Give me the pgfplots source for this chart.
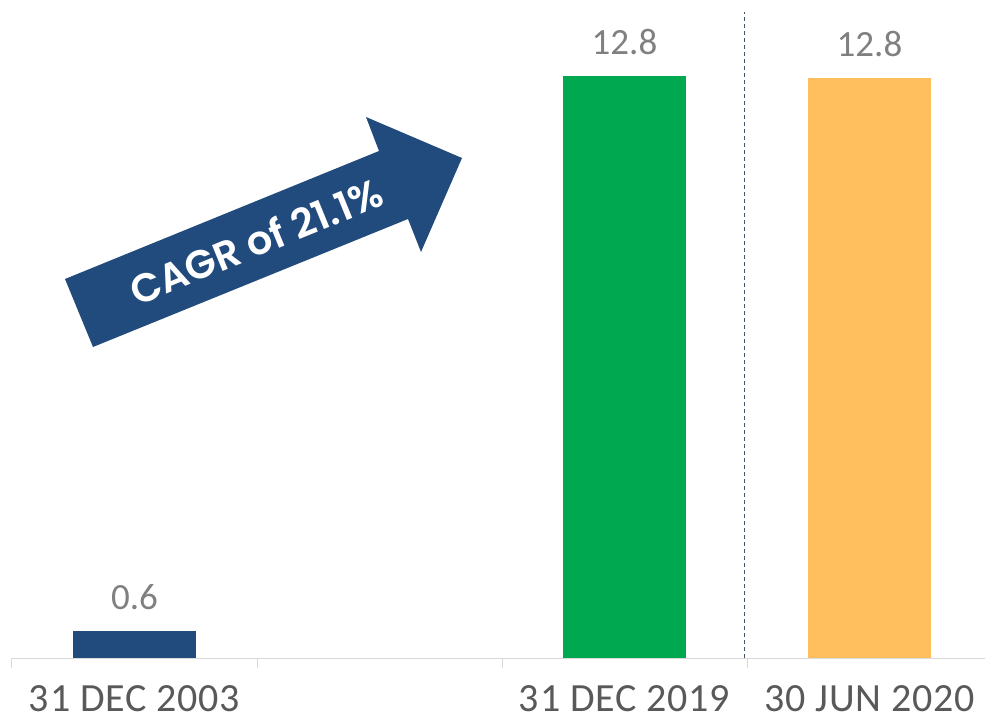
\documentclass[border=0pt]{standalone}
\usepackage{fontspec}
\setmainfont{Carlito}
\newfontfamily\tickfont[LetterSpace=2]{Carlito}
\newfontfamily\arrowfont{Poppins}[BoldFont={* SemiBold}]
\usepackage{pgfplots}
\pgfplotsset{compat=1.18}
\definecolor{cblue}{HTML}{214A7D}
\definecolor{cgreen}{HTML}{00A84F}
\definecolor{corange}{HTML}{FFBF5F}
\definecolor{cdash}{HTML}{44546A}
\begin{document}
\begin{tikzpicture}
\begin{axis}[
  scale only axis, width=980pt, height=658pt,
  xmin=-0.5, xmax=3.5, ymin=0, ymax=14.471,
  axis x line=bottom, axis y line=none,
  x axis line style={draw=black!15, line width=1pt, -},
  xtick={0,2,3},
  xticklabels={31 DEC 2003, 31 DEC 2019, 30 JUN 2020},
  major tick length=0pt,
  minor xtick={-0.5,0.5,1.5,2.5,3.5},
  minor tick length=10pt, tick align=outside,
  tick style={draw=black!15, line width=1pt},
  xticklabel style={font=\tickfont\fontsize{40}{40}\selectfont, text=black!65, inner sep=0pt, anchor=north, yshift=-27pt},
  ytick=\empty,
  ybar, bar width=123pt, bar shift=0pt,
  point meta=explicit symbolic,
  nodes near coords,
  nodes near coords style={font=\fontsize{37}{37}\selectfont, text=black!50, anchor=south, inner sep=0pt, yshift=21pt},
  clip=false,
]
\addplot[fill=cblue, draw=none] coordinates {(0,0.6)[0.6]};
\addplot[fill=cgreen, draw=none] coordinates {(2,12.8)[12.8]};
\addplot[fill=corange, draw=none] coordinates {(3,12.75)[12.8]};
\draw[cdash, line width=1pt, dash pattern=on 4pt off 3pt] (axis cs:2.49,0) -- (axis cs:2.49,14.2);
\end{axis}
\fill[cblue] (81pt,311pt) -- (53pt,379pt) -- (367pt,507pt) -- (354pt,541pt) -- (450pt,500pt) -- (409pt,406pt) -- (396pt,439pt) -- cycle;
\node[rotate=22.2, text=white, inner sep=0pt] at (244pt,417pt) {\arrowfont\bfseries\fontsize{40}{40}\selectfont CAGR of 21.1\%};
\pgfresetboundingbox
\useasboundingbox (-12pt,-63pt) rectangle (973pt,658pt);
\end{tikzpicture}
\end{document}
